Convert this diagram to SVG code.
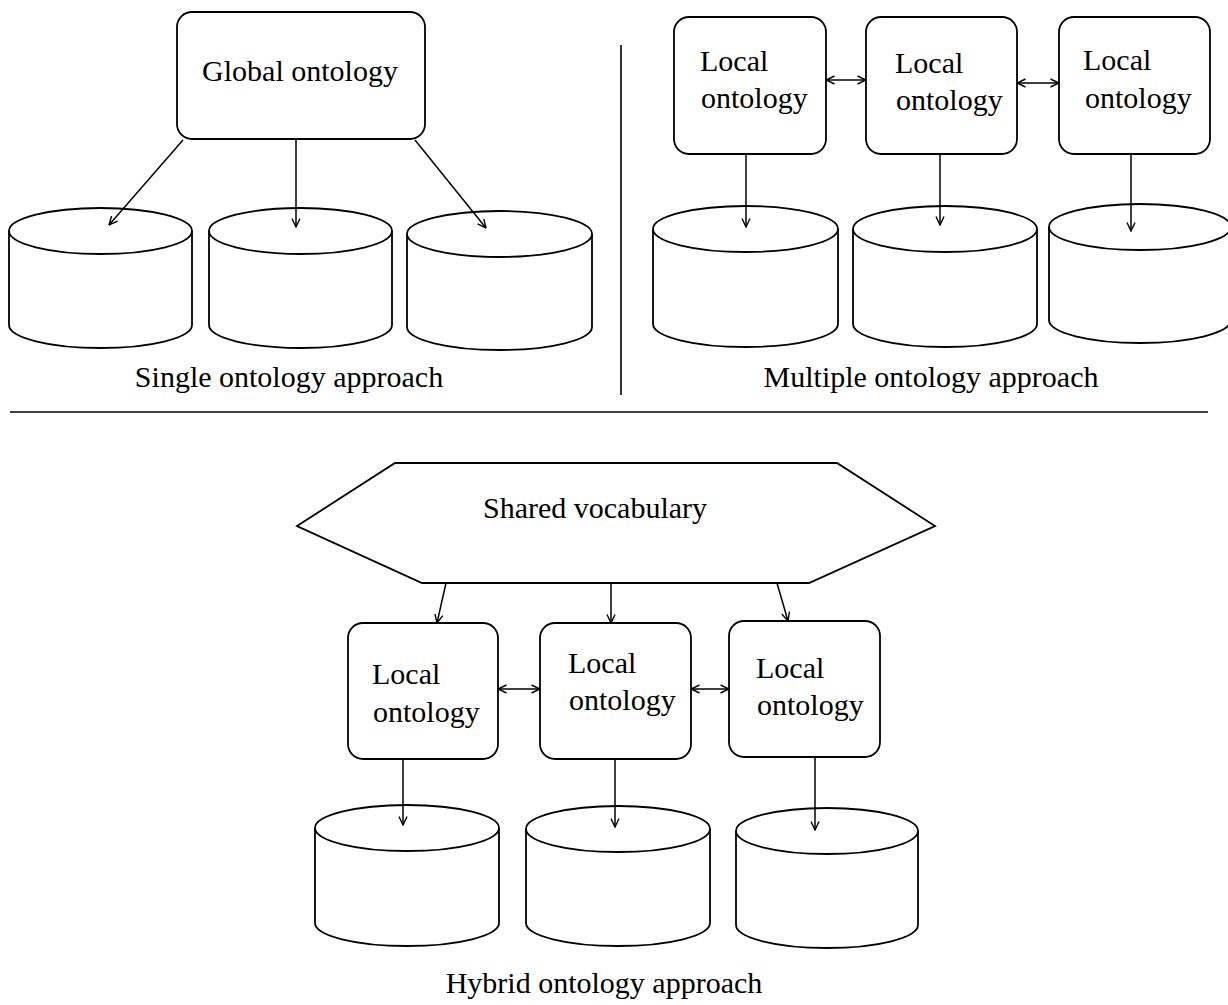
<svg xmlns="http://www.w3.org/2000/svg" width="1228" height="1005" viewBox="0 0 1228 1005">
  <defs>
    <marker id="arr" viewBox="0 0 10 10" refX="9.5" refY="5" markerWidth="10" markerHeight="10" markerUnits="userSpaceOnUse" orient="auto-start-reverse">
      <path d="M1,1 L9.5,5 L1,9" fill="none" stroke="#000" stroke-width="1.4"/>
    </marker>
  </defs>
  <style>
    .box { fill: #fff; stroke: #000; stroke-width: 1.8; }
    .cyl { fill: #fff; stroke: #000; stroke-width: 1.8; }
    .edge { fill: none; stroke: #000; stroke-width: 1.5; marker-end: url(#arr); }
    .both { marker-start: url(#arr); }
    .rule { stroke: #000; stroke-width: 1.6; }
    text { font-family: "Liberation Serif", "Times New Roman", serif; font-size: 30px; fill: #000; }
    .mid { text-anchor: middle; }
  </style>
  <rect width="1228" height="1005" fill="#fff"/>

  <!-- section dividers -->
  <g id="dividers">
    <line class="rule" x1="621" y1="45" x2="621" y2="395"/>
    <line class="rule" x1="10" y1="412" x2="1208" y2="412"/>
  </g>

  <!-- single ontology approach -->
  <g id="global-ontology">
    <rect class="box" x="177" y="12" width="248" height="127" rx="15"/>
    <text class="mid" x="300" y="81">Global ontology</text>
  </g>
  <g id="db-s1">
    <path class="cyl" d="M9,231 V325 A91.5,23 0 0 0 192,325 V231"/>
    <ellipse class="cyl" cx="100.5" cy="231" rx="91.5" ry="23"/>
  </g>
  <g id="db-s2">
    <path class="cyl" d="M209,231 V325 A91.5,23 0 0 0 392,325 V231"/>
    <ellipse class="cyl" cx="300.5" cy="231" rx="91.5" ry="23"/>
  </g>
  <g id="db-s3">
    <path class="cyl" d="M407,234 V327 A92.5,23 0 0 0 592,327 V234"/>
    <ellipse class="cyl" cx="499.5" cy="234" rx="92.5" ry="23"/>
  </g>
  <text id="cap-single" class="mid" x="289" y="387">Single ontology approach</text>

  <!-- multiple ontology approach -->
  <g id="local-m1">
    <rect class="box" x="674" y="17" width="152" height="137" rx="15"/>
    <text x="700" y="71">Local</text>
    <text x="701" y="108">ontology</text>
  </g>
  <g id="local-m2">
    <rect class="box" x="866" y="17" width="151" height="137" rx="15"/>
    <text x="895" y="73">Local</text>
    <text x="896" y="110">ontology</text>
  </g>
  <g id="local-m3">
    <rect class="box" x="1059" y="17" width="151" height="137" rx="15"/>
    <text x="1083" y="70">Local</text>
    <text x="1085" y="108">ontology</text>
  </g>
  <g id="db-m1">
    <path class="cyl" d="M653,229 V324 A92.5,23 0 0 0 838,324 V229"/>
    <ellipse class="cyl" cx="745.5" cy="229" rx="92.5" ry="23"/>
  </g>
  <g id="db-m2">
    <path class="cyl" d="M853,229 V324 A92,23 0 0 0 1037,324 V229"/>
    <ellipse class="cyl" cx="945" cy="229" rx="92" ry="23"/>
  </g>
  <g id="db-m3">
    <path class="cyl" d="M1049,227 V320 A91,23 0 0 0 1231,320 V227"/>
    <ellipse class="cyl" cx="1140" cy="227" rx="91" ry="23"/>
  </g>
  <text id="cap-multiple" class="mid" x="931" y="387">Multiple ontology approach</text>

  <!-- hybrid ontology approach -->
  <g id="shared-vocabulary">
    <polygon class="box" points="297,526 395,463 837,463 935,526 809,583 422,583"/>
    <text class="mid" x="595" y="518">Shared vocabulary</text>
  </g>
  <g id="local-h1">
    <rect class="box" x="348" y="623" width="150" height="136" rx="15"/>
    <text x="372" y="684">Local</text>
    <text x="373" y="722">ontology</text>
  </g>
  <g id="local-h2">
    <rect class="box" x="540" y="623" width="151" height="136" rx="15"/>
    <text x="568" y="673">Local</text>
    <text x="569" y="710">ontology</text>
  </g>
  <g id="local-h3">
    <rect class="box" x="729" y="621" width="151" height="136" rx="15"/>
    <text x="756" y="678">Local</text>
    <text x="757" y="715">ontology</text>
  </g>
  <g id="db-h1">
    <path class="cyl" d="M315,828 V923 A92,23 0 0 0 499,923 V828"/>
    <ellipse class="cyl" cx="407" cy="828" rx="92" ry="23"/>
  </g>
  <g id="db-h2">
    <path class="cyl" d="M526,829 V923 A92,23 0 0 0 710,923 V829"/>
    <ellipse class="cyl" cx="618" cy="829" rx="92" ry="23"/>
  </g>
  <g id="db-h3">
    <path class="cyl" d="M736,831 V925 A91,23 0 0 0 918,925 V831"/>
    <ellipse class="cyl" cx="827" cy="831" rx="91" ry="23"/>
  </g>
  <text id="cap-hybrid" class="mid" x="604" y="993">Hybrid ontology approach</text>

  <!-- connectors -->
  <g id="connectors">
    <line class="edge" x1="183" y1="140" x2="109" y2="225"/>
    <line class="edge" x1="296" y1="140" x2="296" y2="227"/>
    <line class="edge" x1="415" y1="140" x2="486" y2="228"/>

    <line class="edge" x1="746" y1="154" x2="746" y2="227"/>
    <line class="edge" x1="940" y1="154" x2="940" y2="225"/>
    <line class="edge" x1="1131" y1="154" x2="1131" y2="231"/>
    <line class="edge both" x1="826" y1="80" x2="866" y2="80"/>
    <line class="edge both" x1="1017" y1="83" x2="1059" y2="83"/>

    <line class="edge" x1="446" y1="583" x2="437" y2="623"/>
    <line class="edge" x1="611" y1="583" x2="611" y2="623"/>
    <line class="edge" x1="777" y1="583" x2="788" y2="621"/>
    <line class="edge both" x1="498" y1="689" x2="540" y2="689"/>
    <line class="edge both" x1="691" y1="689" x2="729" y2="689"/>

    <line class="edge" x1="403" y1="759" x2="403" y2="825"/>
    <line class="edge" x1="615" y1="759" x2="615" y2="827"/>
    <line class="edge" x1="815" y1="757" x2="815" y2="830"/>
  </g>
</svg>
